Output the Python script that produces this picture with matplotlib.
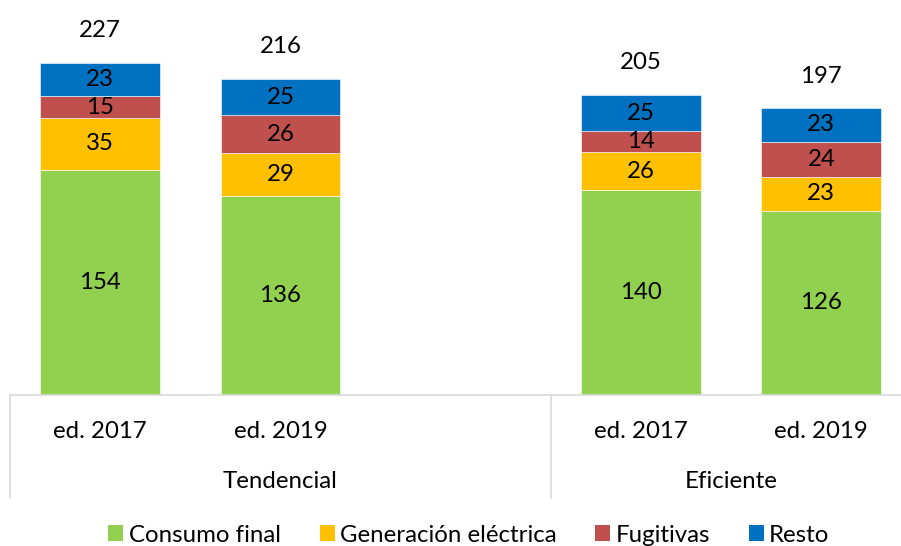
import matplotlib
matplotlib.use("Agg")
import matplotlib.pyplot as plt
from matplotlib.patches import Patch
from matplotlib.transforms import blended_transform_factory
import numpy as np

plt.rcParams['font.family'] = ['Lato', 'DejaVu Sans']

categories = ["ed. 2017", "ed. 2019", "ed. 2017", "ed. 2019"]
groups = ["Tendencial", "Eficiente"]
series_names = ["Consumo final", "Generación eléctrica", "Fugitivas", "Resto"]
consumo_final = [154, 136, 140, 126]
generacion_electrica = [35, 29, 26, 23]
fugitivas = [15, 26, 14, 24]
resto = [23, 25, 25, 23]
totals = [227, 216, 205, 197]

colors = ["#92D050", "#FFC000", "#C0504D", "#0070C0"]
positions = [0, 1, 3, 4]

W, H = 901, 546
fig = plt.figure(figsize=(W / 100, H / 100), dpi=100)
ax = fig.add_axes([10 / W, 151 / H, 891 / W, 366 / H])
ax.set_xlim(-0.5, -0.5 + 891 / 180.3)
ax.set_ylim(0, 250)

series = [consumo_final, generacion_electrica, fugitivas, resto]
bottom = np.zeros(len(positions))
fs = 17.3
for vals, col in zip(series, colors):
    vals = np.array(vals, dtype=float)
    ax.bar(positions, vals, bottom=bottom, width=0.665, color=col,
           edgecolor='white', linewidth=0.4, zorder=2)
    for x, b, v in zip(positions, bottom, vals):
        ax.text(x, b + v / 2, f"{int(v)}", ha='center', va='center',
                fontsize=fs, color='black', zorder=3)
    bottom = bottom + vals

for x, b, t in zip(positions, bottom, totals):
    ax.annotate(f"{t}", (x, b), xytext=(0, 23), textcoords='offset points',
                ha='center', va='center', fontsize=fs, color='black')

for s in ['top', 'right', 'left']:
    ax.spines[s].set_visible(False)
ax.spines['bottom'].set_color('#D9D9D9')
ax.spines['bottom'].set_linewidth(1.2)
ax.set_xticks([])
ax.set_yticks([])

trans = blended_transform_factory(ax.transData, ax.transAxes)
for xs in [-0.5, 2.5]:
    ax.plot([xs, xs], [0, -103 / 366], transform=trans, color='#D9D9D9',
            lw=1.2, clip_on=False)

for x, c in zip(positions, categories):
    ax.text(x, -(432 - 395) / 366, c, transform=trans, ha='center',
            va='center', fontsize=fs)
group_centers = [1.0, 3.5]
for gx, g in zip(group_centers, groups):
    ax.text(gx, -(482 - 395) / 366, g, transform=trans, ha='center',
            va='center', fontsize=fs)

handles = [Patch(facecolor=c, edgecolor='none') for c in colors]
fig.legend(handles, series_names, loc='center', ncol=4,
           bbox_to_anchor=(469 / W, 1 - 535 / H), frameon=False,
           fontsize=fs, handlelength=0.62, handleheight=0.62,
           handletextpad=0.22, columnspacing=1.62, borderaxespad=0)

fig.savefig("out.png", dpi=100)
